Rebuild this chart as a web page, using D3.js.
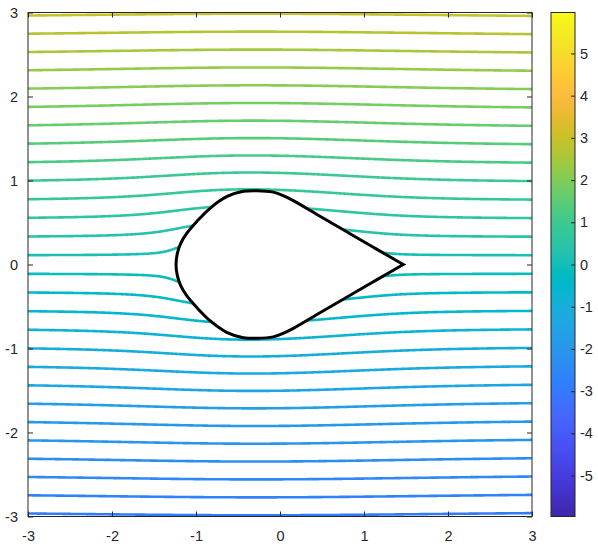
<!DOCTYPE html>
<html>
<head>
<meta charset="utf-8">
<script src="https://cdn.jsdelivr.net/npm/d3@7"></script>
<style>
  body { margin: 0; background: #fff; }
  text { font-family: "Liberation Sans", Arial, Helvetica, sans-serif; }
</style>
</head>
<body>
<svg id="chart" width="598" height="546"></svg>
<script>
// ---- data ----
const xTicks = [-3, -2, -1, 0, 1, 2, 3];
const yTicks = [-3, -2, -1, 0, 1, 2, 3];
const cbarTicks = [-5, -4, -3, -2, -1, 0, 1, 2, 3, 4, 5];
const colorLimits = [-5.97, 5.97];

// stream function levels (= heights where the lines cross the left edge)
const levels = [-2.936, -2.719, -2.501, -2.284, -2.066, -1.849, -1.631,
                -1.414, -1.196, -0.979, -0.761, -0.544, -0.326, -0.109,
                 0.109,  0.326,  0.544,  0.761,  0.979,  1.196,  1.414,
                 1.631,  1.849,  2.066,  2.284,  2.501,  2.719,  2.936];

// drawn body outline, upper surface from leading edge to trailing edge (lower is mirrored)
const bodyX = [-1.238, -1.222, -1.182, -1.111, -0.992, -0.833, -0.635, -0.437,
               -0.278, -0.079,  0.050,  0.159,  0.476,  0.794,  1.111,  1.349,  1.468];
const bodyY = [ 0,      0.133,  0.252,  0.371,  0.510,  0.669,  0.807,  0.871,
                0.879,  0.862,  0.815,  0.760,  0.575,  0.390,  0.205,  0.068,  0];

// Joukowski flow: z = zeta + c^2/zeta + shift, circle centred at -m through c
const jkC = 0.66;
const jkM = 0.107;
const jkShift = 0.148;
const flowU = 1;

// parula colormap (64 entries)
const parula = [
 [0.2422,0.1504,0.6603],[0.2504,0.1650,0.7076],[0.2578,0.1818,0.7511],[0.2647,0.1978,0.7952],
 [0.2706,0.2147,0.8364],[0.2751,0.2342,0.8710],[0.2783,0.2559,0.8991],[0.2803,0.2782,0.9221],
 [0.2813,0.3006,0.9414],[0.2810,0.3228,0.9579],[0.2795,0.3447,0.9717],[0.2760,0.3667,0.9829],
 [0.2699,0.3892,0.9906],[0.2602,0.4123,0.9952],[0.2440,0.4358,0.9988],[0.2206,0.4603,0.9973],
 [0.1963,0.4847,0.9892],[0.1834,0.5074,0.9798],[0.1786,0.5289,0.9682],[0.1764,0.5499,0.9520],
 [0.1687,0.5703,0.9359],[0.1540,0.5902,0.9218],[0.1460,0.6091,0.9079],[0.1380,0.6276,0.8973],
 [0.1248,0.6459,0.8883],[0.1113,0.6635,0.8763],[0.0952,0.6798,0.8598],[0.0689,0.6948,0.8394],
 [0.0297,0.7082,0.8163],[0.0036,0.7203,0.7917],[0.0067,0.7312,0.7660],[0.0433,0.7411,0.7394],
 [0.0964,0.7500,0.7120],[0.1408,0.7584,0.6842],[0.1717,0.7670,0.6554],[0.1938,0.7758,0.6251],
 [0.2161,0.7843,0.5923],[0.2470,0.7918,0.5567],[0.2906,0.7973,0.5188],[0.3406,0.8008,0.4789],
 [0.3909,0.8029,0.4354],[0.4456,0.8024,0.3909],[0.5044,0.7993,0.3480],[0.5616,0.7942,0.3045],
 [0.6174,0.7876,0.2612],[0.6720,0.7793,0.2227],[0.7242,0.7698,0.1910],[0.7738,0.7598,0.1646],
 [0.8203,0.7498,0.1535],[0.8634,0.7406,0.1596],[0.9035,0.7330,0.1774],[0.9393,0.7288,0.2100],
 [0.9728,0.7298,0.2394],[0.9956,0.7434,0.2371],[0.9970,0.7659,0.2199],[0.9952,0.7893,0.2028],
 [0.9892,0.8136,0.1885],[0.9786,0.8386,0.1766],[0.9676,0.8639,0.1643],[0.9610,0.8890,0.1537],
 [0.9597,0.9135,0.1423],[0.9628,0.9373,0.1265],[0.9691,0.9606,0.1064],[0.9769,0.9839,0.0805]];

// ---- layout ----
const svg = d3.select('#chart');
const x = d3.scaleLinear().domain([-3, 3]).range([28, 532]);
const y = d3.scaleLinear().domain([-3, 3]).range([516.5, 12.5]);
const cb = { x: 551, w: 24 };
const cy = d3.scaleLinear().domain(colorLimits).range([516.5, 12.5]);

const parulaHex = parula.map(c => d3.rgb(c[0] * 255, c[1] * 255, c[2] * 255).formatHex());
const color = d3.scaleLinear()
    .domain(parulaHex.map((d, i) => colorLimits[0] + (colorLimits[1] - colorLimits[0]) * i / (parulaHex.length - 1)))
    .range(parulaHex)
    .interpolate(d3.interpolateRgb)
    .clamp(true);

// ---- stream function of the flow past the Joukowski profile ----
const jkA = jkC + jkM;
function psiAt(px, py) {
    let zr = px - jkShift, zi = py;
    let wr = zr * zr - zi * zi - 4 * jkC * jkC, wi = 2 * zr * zi;
    let mod = Math.sqrt(Math.hypot(wr, wi)), ang = Math.atan2(wi, wr) / 2;
    let qr = mod * Math.cos(ang), qi = mod * Math.sin(ang);
    let r1 = (zr + qr) / 2 + jkM, i1 = (zi + qi) / 2;
    let r2 = (zr - qr) / 2 + jkM, i2 = (zi - qi) / 2;
    let sr = r1, si = i1;
    if (r2 * r2 + i2 * i2 > r1 * r1 + i1 * i1) { sr = r2; si = i2; }
    let s2 = sr * sr + si * si;
    return flowU * (si - jkA * jkA * si / s2);
}

const h = 0.01, g0 = -3.05, g1 = 3.05;
const N = Math.round((g1 - g0) / h) + 1;
const psi = new Float64Array(N * N);
for (let j = 0; j < N; j++) {
    for (let i = 0; i < N; i++) {
        psi[j * N + i] = psiAt(g0 + i * h, g1 - j * h);
    }
}

let defs = svg.append('defs');
defs.append('clipPath').attr('id', 'plotclip')
    .append('rect')
    .attr('x', x(-3)).attr('y', y(3))
    .attr('width', x(3) - x(-3)).attr('height', y(-3) - y(3));

const gridPath = d3.geoPath(d3.geoTransform({
    point: function(gx, gy) {
        this.stream.point(x(g0 + (gx - 0.5) * h), y(g1 - (gy - 0.5) * h));
    }
}));

const contours = d3.contours().size([N, N]);

let lines = svg.append('g').attr('clip-path', 'url(#plotclip)');
levels.forEach(function(lv) {
    lines.append('path')
        .attr('d', gridPath(contours.contour(psi, lv)))
        .attr('fill', 'none')
        .attr('stroke', color(lv))
        .attr('stroke-width', 2.6)
        .attr('stroke-linejoin', 'round');
});

// ---- body: TE -> upper -> LE -> lower -> TE ----
let upper = bodyX.map((d, i) => [d, bodyY[i]]);
let outline = upper.slice().reverse().concat(upper.slice(1).map(d => [d[0], -d[1]]));

let bodyLine = d3.line()
    .x(d => x(d[0]))
    .y(d => y(d[1]))
    .curve(d3.curveCatmullRom.alpha(0.5));

svg.append('path')
    .attr('d', bodyLine(outline) + 'Z')
    .attr('fill', '#fff')
    .attr('stroke', '#000')
    .attr('stroke-width', 3)
    .attr('stroke-linejoin', 'miter');

// ---- axes ----
const axisColor = '#262626';
const fmt = d => String(d);

function styleAxis(g) {
    g.select('.domain').remove();
    g.selectAll('line').attr('stroke', axisColor);
    g.selectAll('text').attr('fill', axisColor).style('font-size', '14.5px');
}

svg.append('g').attr('transform', `translate(0,${y(-3)})`)
    .call(d3.axisBottom(x).tickValues(xTicks).tickFormat(fmt).tickSize(-5).tickPadding(14))
    .call(styleAxis);
svg.append('g').attr('transform', `translate(0,${y(3)})`)
    .call(d3.axisTop(x).tickValues(xTicks).tickFormat('').tickSize(-5))
    .call(styleAxis);
svg.append('g').attr('transform', `translate(${x(-3)},0)`)
    .call(d3.axisLeft(y).tickValues(yTicks).tickFormat(fmt).tickSize(-5).tickPadding(10))
    .call(styleAxis);
svg.append('g').attr('transform', `translate(${x(3)},0)`)
    .call(d3.axisRight(y).tickValues(yTicks).tickFormat('').tickSize(-5))
    .call(styleAxis);

svg.append('rect')
    .attr('x', x(-3)).attr('y', y(3))
    .attr('width', x(3) - x(-3)).attr('height', y(-3) - y(3))
    .attr('fill', 'none').attr('stroke', axisColor).attr('stroke-width', 1);

// ---- colorbar ----
let grad = defs.append('linearGradient')
    .attr('id', 'cbgrad').attr('x1', 0).attr('y1', 1).attr('x2', 0).attr('y2', 0);
parulaHex.forEach((c, i) => {
    grad.append('stop').attr('offset', i / (parulaHex.length - 1)).attr('stop-color', c);
});

svg.append('rect')
    .attr('x', cb.x).attr('y', cy(colorLimits[1]))
    .attr('width', cb.w).attr('height', cy(colorLimits[0]) - cy(colorLimits[1]))
    .attr('fill', 'url(#cbgrad)')
    .attr('stroke', axisColor).attr('stroke-width', 1);

svg.append('g').attr('transform', `translate(${cb.x + cb.w},0)`)
    .call(d3.axisRight(cy).tickValues(cbarTicks).tickFormat(fmt).tickSize(-4).tickPadding(5))
    .call(styleAxis);
</script>
</body>
</html>
